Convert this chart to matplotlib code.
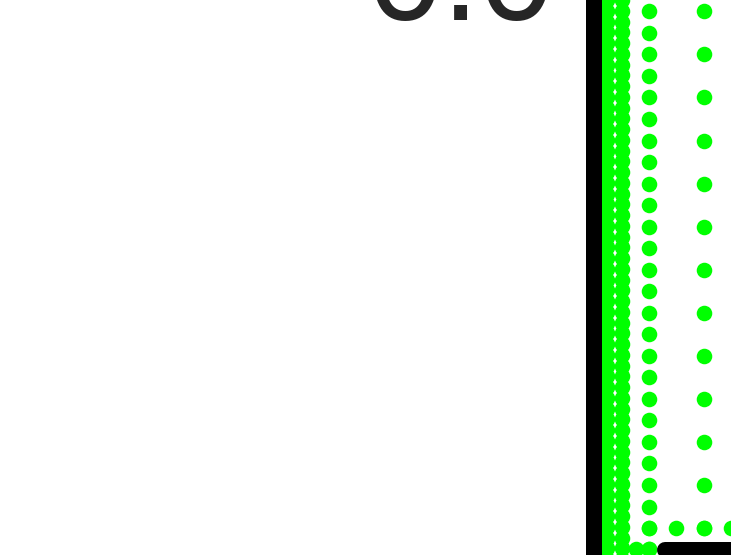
import matplotlib
matplotlib.use("Agg")
import matplotlib.pyplot as plt

# scatter values (pixel-like units, y grows downward)
dense_x = [607, 621.5]
dense_y = [0, 11, 22, 32, 43, 54, 65, 75, 86, 97, 108, 118, 129, 140, 151, 161,
           172, 183, 194, 204, 215, 226, 237, 247, 258, 269, 280, 290, 301, 312,
           323, 333, 344, 355, 366, 376, 387, 398, 409, 419, 430, 441, 452, 462,
           473, 484, 495, 505, 516, 527, 538, 548, 559]
mid_x = 649
mid_y = [11, 33, 54, 76, 97, 119, 141, 162, 184, 205, 227, 248, 270, 291, 313,
         334, 356, 377, 399, 420, 442, 463, 485, 507, 528, 549]
far_x = 704
far_y = [11, 54, 97, 141, 184, 227, 270, 313, 356, 399, 442, 485, 528]
row1_y = 528
row1_x = [649, 676, 704, 731]
row2_y = 549
row2_x = [636, 649]
tick_label = "0.0"

green = "#00ff00"
fig = plt.figure(figsize=(7.31, 5.55), dpi=100)
ax = fig.add_axes([0, 0, 1, 1])
ax.set_xlim(0, 731)
ax.set_ylim(555, 0)
ax.axis("off")

ms = 11.2
for x in dense_x:
    ax.plot([x] * len(dense_y), dense_y, "o", color=green, ms=ms, mew=0)
ax.plot([mid_x] * len(mid_y), mid_y, "o", color=green, ms=ms, mew=0)
ax.plot([far_x] * len(far_y), far_y, "o", color=green, ms=ms, mew=0)
ax.plot(row1_x, [row1_y] * len(row1_x), "o", color=green, ms=ms, mew=0)
ax.plot(row2_x, [row2_y] * len(row2_x), "o", color=green, ms=ms, mew=0)

# thick spines
ax.plot([593.5, 593.5], [-10, 570], color="black", lw=16 * 0.72,
        solid_capstyle="butt", zorder=5)
ax.plot([665, 760], [550, 550], color="black", lw=16 * 0.72,
        solid_capstyle="round", zorder=5)

ax.text(368, 20, tick_label, fontsize=97, family="Liberation Sans",
        color="#262626", ha="left", va="baseline")

fig.savefig("out.png", dpi=100)
